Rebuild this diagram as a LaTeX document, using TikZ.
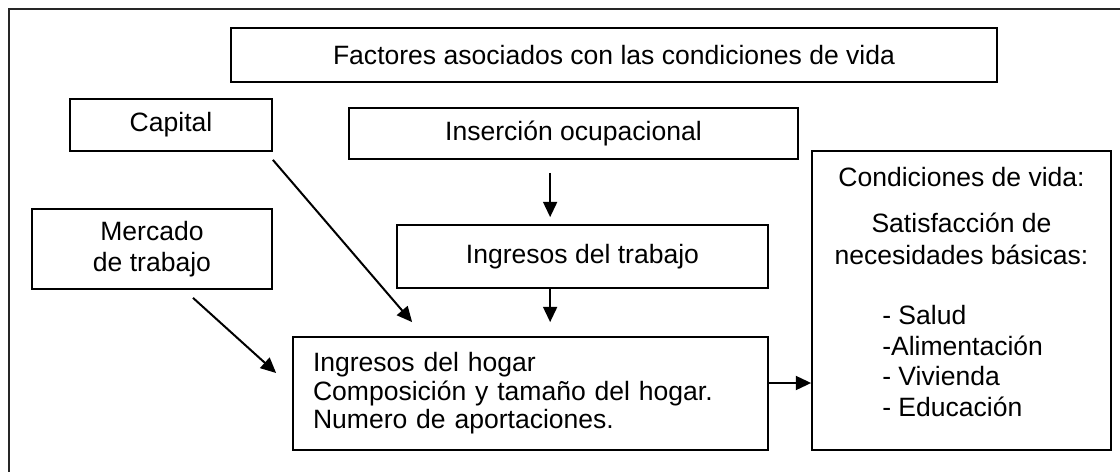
\documentclass[tikz,border=0pt]{standalone}
\usepackage{fontspec}
\setmainfont{Liberation Sans}
\usetikzlibrary{arrows.meta,calc}
\tikzset{
	caja/.style={draw, line width=1.3pt, inner sep=0pt, align=center, font=\fontsize{19.9pt}{23pt}\selectfont},
	texto/.style={inner sep=0pt, align=center, font=\fontsize{19.9pt}{23pt}\selectfont},
	flecha/.style={line width=1.5pt, -{Triangle[length=11.5pt,width=10.5pt]}},
	marco/.style={draw=black!85, line width=1.3pt}
}

\begin{document}
\begin{tikzpicture}[x=0.75pt, y=-0.75pt]

	\clip (0,0) rectangle (1120,471);
	\draw[marco] (9,9) rectangle (1140,490);

	% cajas
	\node[caja, minimum width=574.5pt, minimum height=40.5pt] (titulo) at (614,55) {Factores asociados con las condiciones de vida};
	\node[caja, minimum width=151.5pt, minimum height=39pt] (capital) at (171,125) {Capital};
	\node[caja, minimum width=336.75pt, minimum height=38.25pt] (insercion) at (573.5,133.5) {Inserción ocupacional};
	\node[caja, minimum width=180pt, minimum height=60pt] (mercado) at (152,249) {Mercado\\de trabajo};
	\node[caja, minimum width=278.25pt, minimum height=47.25pt] (trabajo) at (582.5,256.5) {Ingresos del trabajo};
	\node[caja, minimum height=84.75pt, text width=326.25pt, inner xsep=15pt, align=left,
		font=\fontsize{19.9pt}{21.4pt}\selectfont] (hogar) at (530.5,393.5)
		{Ingresos del hogar\\Composición y tamaño del hogar.\\Numero de aportaciones.};
	\node[caja, minimum width=224.25pt, minimum height=224.25pt] (cond) at (961.5,300.5) {};

	% textos de condiciones de vida
	\node[texto] (cond1) at (961.5,177) {Condiciones de vida:};
	\node[texto, font=\fontsize{19.9pt}{24pt}\selectfont] (cond2) at (961.5,239) {Satisfacción de\\necesidades básicas:};
	\node[texto, align=left, anchor=west] (lista) at (882,361) {- Salud\\-Alimentación\\- Vivienda\\- Educación};

	% flechas
	\draw[flecha] ($(capital.south east)+(0,8)$) -- ($(hogar.north west)+(120,-14)$);
	\draw[flecha] ($(mercado.south)+(41,8)$) -- ($(hogar.west)+(-16,-20.5)$);
	\draw[flecha] ($(insercion.south west)+(202,13)$) -- ($(trabajo.north west)+(154,-7)$);
	\draw[flecha] ($(trabajo.south west)+(154,0)$) -- ($(hogar.north west)+(258,-14)$);
	\draw[flecha] ($(hogar.east)+(0,-10.5)$) -- ($(cond.west)+(0,82.5)$);

\end{tikzpicture}
\end{document}
